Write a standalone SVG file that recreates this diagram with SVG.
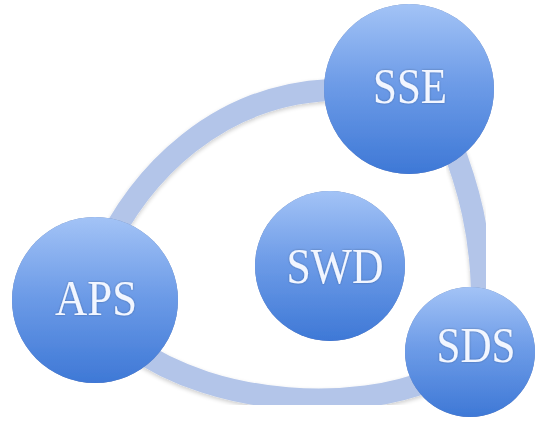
<svg xmlns="http://www.w3.org/2000/svg" width="542" height="428" viewBox="0 0 542 428">
<style>
.node circle{fill:url(#ball);filter:url(#halo)}
.node text{font-family:"Liberation Serif","DejaVu Serif",serif;font-size:50px;fill:#f2f6ff;text-anchor:middle;filter:url(#tglow)}
.ring{fill:none;stroke:#b3c5e9;stroke-width:22;stroke-linecap:butt;filter:url(#rshadow)}
</style>
<defs>
<linearGradient id="ball" x1="0" y1="0" x2="0" y2="1">
<stop offset="0" stop-color="#a3c3f6"/>
<stop offset="0.45" stop-color="#6f9de8"/>
<stop offset="1" stop-color="#3e78d6"/>
</linearGradient>
<filter id="halo" x="-20%" y="-20%" width="140%" height="140%">
<feGaussianBlur in="SourceAlpha" stdDeviation="4"/>
<feOffset dy="3"/>
<feComponentTransfer><feFuncA type="linear" slope="0.25"/></feComponentTransfer>
<feFlood flood-color="#6a7fa8"/>
<feComposite operator="in" in2="SourceAlpha"/>
<feMerge><feMergeNode/><feMergeNode in="SourceGraphic"/></feMerge>
</filter>
<filter id="rshadow" x="-10%" y="-10%" width="120%" height="120%">
<feGaussianBlur in="SourceAlpha" stdDeviation="2"/>
<feOffset dy="2"/>
<feComponentTransfer><feFuncA type="linear" slope="0.2"/></feComponentTransfer>
<feMerge><feMergeNode/><feMergeNode in="SourceGraphic"/></feMerge>
</filter>
<filter id="tglow" x="-10%" y="-20%" width="120%" height="140%">
<feGaussianBlur in="SourceAlpha" stdDeviation="1"/>
<feComponentTransfer><feFuncA type="linear" slope="0.3"/></feComponentTransfer>
<feMerge><feMergeNode/><feMergeNode in="SourceGraphic"/></feMerge>
</filter>
</defs>
<rect width="542" height="428" fill="#ffffff"/>
<g id="connectors">
<path class="ring" d="M 100,260 C 140,170 220,95 330,90"/>
<path class="ring" d="M 450,140 C 468,185 482,235 482,300"/>
<path class="ring" d="M 430,380 C 360,410 220,410 130,345"/>
</g>
<g id="node-sse" class="node">
<circle cx="409" cy="89" r="85"/>
<text x="410" y="103" textLength="74" lengthAdjust="spacingAndGlyphs">SSE</text>
</g>
<g id="node-aps" class="node">
<circle cx="95" cy="300" r="83"/>
<text x="96" y="315" textLength="82" lengthAdjust="spacingAndGlyphs">APS</text>
</g>
<g id="node-swd" class="node">
<circle cx="330" cy="266" r="75"/>
<text x="335" y="283" textLength="97" lengthAdjust="spacingAndGlyphs">SWD</text>
</g>
<g id="node-sds" class="node">
<circle cx="470" cy="352" r="65"/>
<text x="476" y="362" textLength="79" lengthAdjust="spacingAndGlyphs">SDS</text>
</g>
</svg>
